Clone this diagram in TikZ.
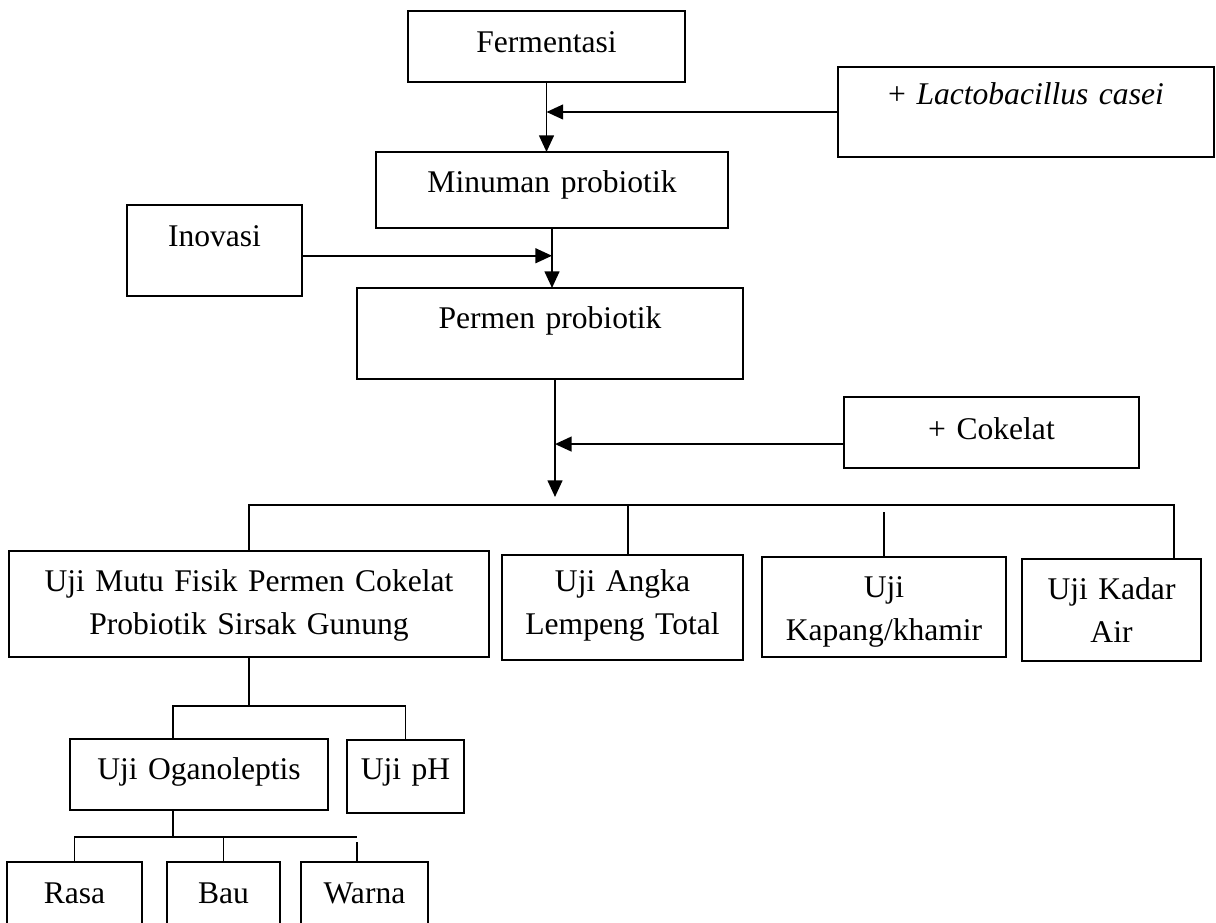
\documentclass[tikz,border=0pt]{standalone}
\usepackage{fontspec}
\setmainfont{Liberation Serif}
\usetikzlibrary{positioning,arrows.meta}

\begin{document}
\begin{tikzpicture}[
            x=0.38pt, y=-0.38pt,
            box/.style={draw, rectangle, line width=0.75pt, inner sep=0pt, outer sep=0pt, anchor=north west, align=center, font=\fontsize{12}{16}\selectfont},
            dims/.style n args={3}{text width=#1*0.38pt, text height=#2*0.38pt, text depth=#3*0.38pt},
            arrow/.style={-{Triangle[length=6.3pt,width=5.6pt]}, line width=0.75pt},
            link/.style={line width=0.75pt}
        ]
            \useasboundingbox (0,0) rectangle (1216,923);
            \clip (0,0) rectangle (1216,923);

            \node (fer) [box, dims={277}{42}{29}] at (408,11) {Fermentasi};
            \node (lac) [box, dims={376}{38}{52}] at (838,67) {+ \textit{Lactobacillus casei}};
            \node (mnm) [box, dims={352}{41}{35}] at (376,152) {Minuman probiotik};
            \node (ino) [box, dims={175}{42}{49}] at (127,205) {Inovasi};
            \node (prm) [box, dims={386}{41}{50}] at (357,288) {Permen probiotik};
            \node (cok) [box, dims={295}{43}{28}] at (844,397) {+ Cokelat};
            \node (mutu) [box, dims={480}{41}{65}] at (9,551) {Uji Mutu Fisik Permen Cokelat\\Probiotik Sirsak Gunung};
            \node (ang) [box, dims={241}{37}{68}] at (502,555) {Uji Angka\\Lempeng Total};
            \node (kap) [box, dims={244}{41}{59}] at (762,557) {Uji\\Kapang/khamir};
            \node (kad) [box, dims={179}{41}{61}] at (1022,559) {Uji Kadar\\Air};
            \node (ogn) [box, dims={258}{41}{30}] at (70,739) {Uji Oganoleptis};
            \node (ph) [box, dims={117}{40}{33}] at (347,740) {Uji pH};
            \node (rasa) [box, dims={135}{41}{78}] at (7,862) {Rasa};
            \node (bau) [box, dims={113}{41}{78}] at (167,862) {Bau};
            \node (war) [box, dims={127}{41}{78}] at (301,862) {Warna};

            \coordinate (tip) at (555,497);
            \coordinate (bar) at (0,505);
            \coordinate (barR) at (1174,505);
            \coordinate (bar2) at (0,706);
            \coordinate (bar3) at (0,837);

            % fermentasi sampai permen
            \draw [arrow] (fer) -- (fer |- mnm.north);
            \draw [arrow] (lac.west) -- (lac.west -| fer);
            \draw [arrow] (mnm) -- (mnm |- prm.north);
            \draw [arrow] ([yshift=-2pt]ino.east) -- ([yshift=-2pt]ino.east -| mnm);

            % cokelat
            \draw [arrow] (prm.south -| tip) -- (tip);
            \draw [arrow] ([yshift=-4.4pt]cok.west) -- ([yshift=-4.4pt]cok.west -| tip);

            % pengujian
            \draw [link] (mutu.north) |- (barR) -- (barR |- kad.north);
            \draw [link] ([xshift=2pt]ang.north) -- ([xshift=2pt]ang.north |- bar);
            \draw [link] (kap.north) -- ++(0,-45);

            \draw [link] (mutu.south) -- (mutu.south |- bar2);
            \draw [link] ([xshift=-10pt]ogn.north) |- (bar2 -| ph.north) -- (ph.north);

            \draw [link] ([xshift=-10pt]ogn.south) -- ([xshift=-10pt]ogn.south |- bar3);
            \draw [link] (rasa.north) |- ([xshift=-3pt]bar3 -| war.north);
            \draw [link] (bau.north) -- (bau.north |- bar3);
            \draw [link] ([xshift=-3pt]war.north) -- ++(0,-20);
        \end{tikzpicture}
\end{document}
